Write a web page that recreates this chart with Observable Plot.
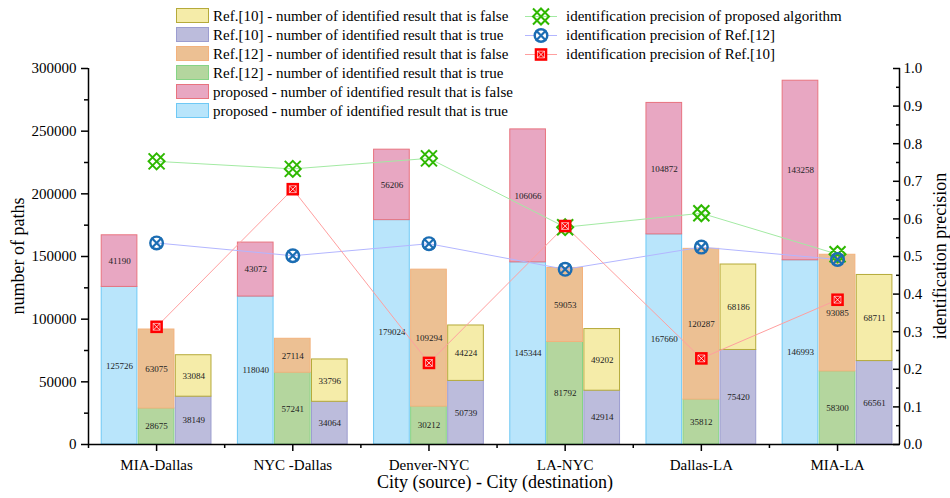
<!DOCTYPE html>
<html>
<head>
<meta charset="utf-8">
<script src="https://cdn.jsdelivr.net/npm/d3@7"></script>
<script src="https://cdn.jsdelivr.net/npm/@observablehq/plot@0.6"></script>
<style>
  body { margin: 0; background: #fff; }
  #chart { position: relative; width: 950px; height: 498px; font-family: "Liberation Serif", "Times New Roman", serif; color: #000; }
  #chart svg { display: block; }
  .lg { position: absolute; height: 19px; line-height: 19px; font-size: 15px; white-space: nowrap; }
  .sw { position: absolute; left: 0; top: 1px; width: 31px; height: 13px; border: 1.5px solid; }
  .title { position: absolute; font-size: 18px; white-space: nowrap; }
</style>
</head>
<body>
<div id="chart"></div>
<script>
// Route pairs (source - destination)
const cities = ["MIA-Dallas", "NYC -Dallas", "Denver-NYC", "LA-NYC", "Dallas-LA", "MIA-LA"];

// Number of identified paths per algorithm
const proposedTrue  = [125726, 118040, 179024, 145344, 167660, 146993];
const proposedFalse = [41190, 43072, 56206, 106066, 104872, 143258];
const ref12True     = [28675, 57241, 30212, 81792, 35812, 58300];
const ref12False    = [63075, 27114, 109294, 59053, 120287, 93085];
const ref10True     = [38149, 34064, 50739, 42914, 75420, 66561];
const ref10False    = [33084, 33796, 44224, 49202, 68186, 68711];

// Identification precision (right axis)
const precisionProposed = [0.753, 0.733, 0.761, 0.578, 0.615, 0.506];
const precisionRef12    = [0.536, 0.502, 0.534, 0.466, 0.525, 0.492];
const precisionRef10    = [0.313, 0.679, 0.217, 0.581, 0.229, 0.385];

// Axis ticks
const countTicks = [0, 50000, 100000, 150000, 200000, 250000, 300000];
const countMinorTicks = [25000, 75000, 125000, 175000, 225000, 275000];
const precisionTicks = [0, 0.1, 0.2, 0.3, 0.4, 0.5, 0.6, 0.7, 0.8, 0.9, 1.0];
const precisionMinorTicks = [0.05, 0.15, 0.25, 0.35, 0.45, 0.55, 0.65, 0.75, 0.85, 0.95];

// Legend texts
const barLegend = [
  "Ref.[10] - number of identified result that is false",
  "Ref.[10] - number of identified result that is true",
  "Ref.[12] - number of identified result that is false",
  "Ref.[12] - number of identified result that is true",
  "proposed - number of identified result that is false",
  "proposed - number of identified result that is true"
];
const lineLegend = [
  "identification precision of proposed algorithm",
  "identification precision of Ref.[12]",
  "identification precision of Ref.[10]"
];

const yMax = 300000;
const xDomain = [-0.5, 5.455];
const step = 0.272;   // distance between bars of one group
const bw = 0.262;     // bar width
const serif = "Liberation Serif, Times New Roman, serif";

const palette = {
  proposedTrue:  {fill: "#b9e5fb", stroke: "#6fc9f5"},
  proposedFalse: {fill: "#e8a7c2", stroke: "#e8737f"},
  ref12True:     {fill: "#b4d69e", stroke: "#86d486"},
  ref12False:    {fill: "#ecc093", stroke: "#f3b27d"},
  ref10True:     {fill: "#bcbcdc", stroke: "#9c9dd0"},
  ref10False:    {fill: "#f5eca9", stroke: "#b5aa3a"}
};

const series = [
  {t: proposedTrue, f: proposedFalse, ct: palette.proposedTrue, cf: palette.proposedFalse, off: -1},
  {t: ref12True,    f: ref12False,    ct: palette.ref12True,    cf: palette.ref12False,    off: 0},
  {t: ref10True,    f: ref10False,    ct: palette.ref10True,    cf: palette.ref10False,    off: 1}
];

// Stacked segments: true part at the bottom, false part above
const segments = [];
series.forEach(s => {
  cities.forEach((c, i) => {
    const x1 = i + s.off * step - bw / 2, x2 = x1 + bw;
    segments.push({x1, x2, y1: 0, y2: s.t[i], v: s.t[i], fill: s.ct.fill, stroke: s.ct.stroke});
    segments.push({x1, x2, y1: s.t[i], y2: s.t[i] + s.f[i], v: s.f[i], fill: s.cf.fill, stroke: s.cf.stroke});
  });
});

const toRows = arr => arr.map((p, i) => ({i, p}));
const rowsProposed = toRows(precisionProposed);
const rowsRef12 = toRows(precisionRef12);
const rowsRef10 = toRows(precisionRef10);

// Marker symbols
const radius = size => Math.sqrt(size / Math.PI);
const lattice = {draw(ctx, size) {
  const r = radius(size);
  ctx.moveTo(-r, -r); ctx.lineTo(r, r);
  ctx.moveTo(-r, r); ctx.lineTo(r, -r);
  ctx.moveTo(0, -r); ctx.lineTo(r, 0); ctx.lineTo(0, r); ctx.lineTo(-r, 0); ctx.closePath();
}};
const cross = {draw(ctx, size) {
  const r = radius(size);
  ctx.moveTo(-r, -r); ctx.lineTo(r, r);
  ctx.moveTo(-r, r); ctx.lineTo(r, -r);
}};
const box = {draw(ctx, size) {
  const r = radius(size);
  ctx.rect(-r, -r, 2 * r, 2 * r);
}};

const green = "#2eb800", greenLine = "#a3eaa3";
const blue = "#1b6db3", blueLine = "#b3b6ff";
const red = "#ff0000", redLine = "#ff9f9f";
const py = d => d.p * yMax;

const chart = Plot.plot({
  width: 950,
  height: 498,
  marginLeft: 88,
  marginRight: 51,
  marginTop: 68,
  marginBottom: 54,
  style: {fontFamily: serif, fontSize: "15px", color: "#000", background: "#fff"},
  x: {type: "linear", domain: xDomain},
  y: {domain: [0, yMax]},
  color: {type: "identity"},
  marks: [
    Plot.rectY(segments, {x1: "x1", x2: "x2", y1: "y1", y2: "y2", fill: "fill", stroke: "stroke", strokeWidth: 1}),
    Plot.text(segments, {x: d => (d.x1 + d.x2) / 2, y: d => (d.y1 + d.y2) / 2, text: d => String(d.v), fontSize: 9, fontFamily: serif, fill: "#222"}),

    // precision lines
    Plot.line(rowsProposed, {x: "i", y: py, stroke: greenLine, strokeWidth: 1}),
    Plot.line(rowsRef12, {x: "i", y: py, stroke: blueLine, strokeWidth: 1}),
    Plot.line(rowsRef10, {x: "i", y: py, stroke: redLine, strokeWidth: 1}),
    Plot.dot(rowsProposed, {x: "i", y: py, symbol: lattice, r: 8, stroke: green, strokeWidth: 2, fill: "none"}),
    Plot.dot(rowsRef12, {x: "i", y: py, symbol: "circle", r: 6.3, stroke: blue, strokeWidth: 2.4, fill: "none"}),
    Plot.dot(rowsRef12, {x: "i", y: py, symbol: cross, r: 5.2, stroke: blue, strokeWidth: 2.2}),
    Plot.dot(rowsRef10, {x: "i", y: py, symbol: box, r: 6.3, fill: red, stroke: "none"}),
    Plot.dot(rowsRef10, {x: "i", y: py, symbol: box, r: 3.4, fill: "none", stroke: "#fff", strokeWidth: 0.6}),
    Plot.dot(rowsRef10, {x: "i", y: py, symbol: cross, r: 3.4, stroke: "#fff", strokeWidth: 0.8}),

    // axis lines
    Plot.ruleY([0], {stroke: "#000", strokeWidth: 1.5}),
    Plot.ruleX(xDomain, {y1: 0, y2: yMax, stroke: "#000", strokeWidth: 1.5}),

    // left axis
    Plot.axisY({ticks: countTicks, tickSize: 7, tickPadding: 5, tickFormat: d => String(d), fontSize: 15, fontFamily: serif, strokeWidth: 1.5, label: null}),
    Plot.axisY({ticks: countMinorTicks, tickSize: 4, tickFormat: () => "", strokeWidth: 1.5, label: null}),

    // right axis (ticks point inward)
    Plot.axisY({anchor: "right", ticks: precisionTicks.map(t => t * yMax), tickSize: -7, tickPadding: 11,
      tickFormat: d => (d / yMax).toFixed(1), fontSize: 15, fontFamily: serif, strokeWidth: 1.5, label: null}),
    Plot.axisY({anchor: "right", ticks: precisionMinorTicks.map(t => t * yMax), tickSize: -4,
      tickFormat: () => "", strokeWidth: 1.5, label: null}),

    // bottom axis
    Plot.axisX({ticks: d3.range(cities.length), tickSize: 7, tickPadding: 8, tickFormat: i => cities[i], fontSize: 15, fontFamily: serif, strokeWidth: 1.5, label: null}),
    Plot.axisX({ticks: d3.range(-0.5, cities.length - 1, 1), tickSize: 4, tickFormat: () => "", strokeWidth: 1.5, label: null})
  ]
});

const root = document.getElementById("chart");
root.appendChild(chart);

// Axis titles
const addTitle = (text, css) => {
  const el = document.createElement("div");
  el.className = "title";
  el.textContent = text;
  Object.assign(el.style, css);
  root.appendChild(el);
};
addTitle("City (source) - City (destination)", {left: "0", width: "950px", textAlign: "center", top: "472px", paddingLeft: "40px", boxSizing: "border-box"});
addTitle("number of paths", {left: "18px", top: "256px", transform: "translate(-50%,-50%) rotate(-90deg)"});
addTitle("identification precision", {left: "940px", top: "256px", transform: "translate(-50%,-50%) rotate(-90deg)"});

// Legend: stacked bar parts
const barLegendColors = [palette.ref10False, palette.ref10True, palette.ref12False, palette.ref12True, palette.proposedFalse, palette.proposedTrue];
barLegend.forEach((label, k) => {
  const row = document.createElement("div");
  row.className = "lg";
  row.style.left = "176px";
  row.style.top = (7 + k * 19) + "px";
  row.style.paddingLeft = "37px";
  const c = barLegendColors[k];
  row.innerHTML = `<span class="sw" style="background:${c.fill};border-color:${c.stroke}"></span>`;
  row.appendChild(document.createTextNode(label));
  root.appendChild(row);
});

// Legend: precision lines
const lineSymbols = [
  `<line x1="0" y1="9.5" x2="32" y2="9.5" stroke="${greenLine}"/>
   <g stroke="${green}" stroke-width="2" fill="none" transform="translate(16,9.5)">
   <path d="M-8,-8L8,8M-8,8L8,-8M0,-8L8,0L0,8L-8,0Z"/></g>`,
  `<line x1="0" y1="9.5" x2="32" y2="9.5" stroke="${blueLine}"/>
   <g stroke="${blue}" fill="none" transform="translate(16,9.5)">
   <circle r="6.3" fill="#fff" stroke-width="2.4"/><path d="M-5.2,-5.2L5.2,5.2M-5.2,5.2L5.2,-5.2" stroke-width="2.2"/></g>`,
  `<line x1="0" y1="9.5" x2="32" y2="9.5" stroke="${redLine}"/>
   <g transform="translate(16,9.5)"><rect x="-6.3" y="-6.3" width="12.6" height="12.6" fill="${red}"/>
   <rect x="-3.4" y="-3.4" width="6.8" height="6.8" fill="none" stroke="#fff" stroke-width="0.6"/>
   <path d="M-3.4,-3.4L3.4,3.4M-3.4,3.4L3.4,-3.4" stroke="#fff" stroke-width="0.8"/></g>`
];
lineLegend.forEach((label, k) => {
  const row = document.createElement("div");
  row.className = "lg";
  row.style.left = "525px";
  row.style.top = (7 + k * 19) + "px";
  row.style.paddingLeft = "41px";
  row.innerHTML = `<svg width="32" height="19" style="position:absolute;left:0;top:0;overflow:visible">${lineSymbols[k]}</svg>`;
  row.appendChild(document.createTextNode(label));
  root.appendChild(row);
});
</script>
</body>
</html>
